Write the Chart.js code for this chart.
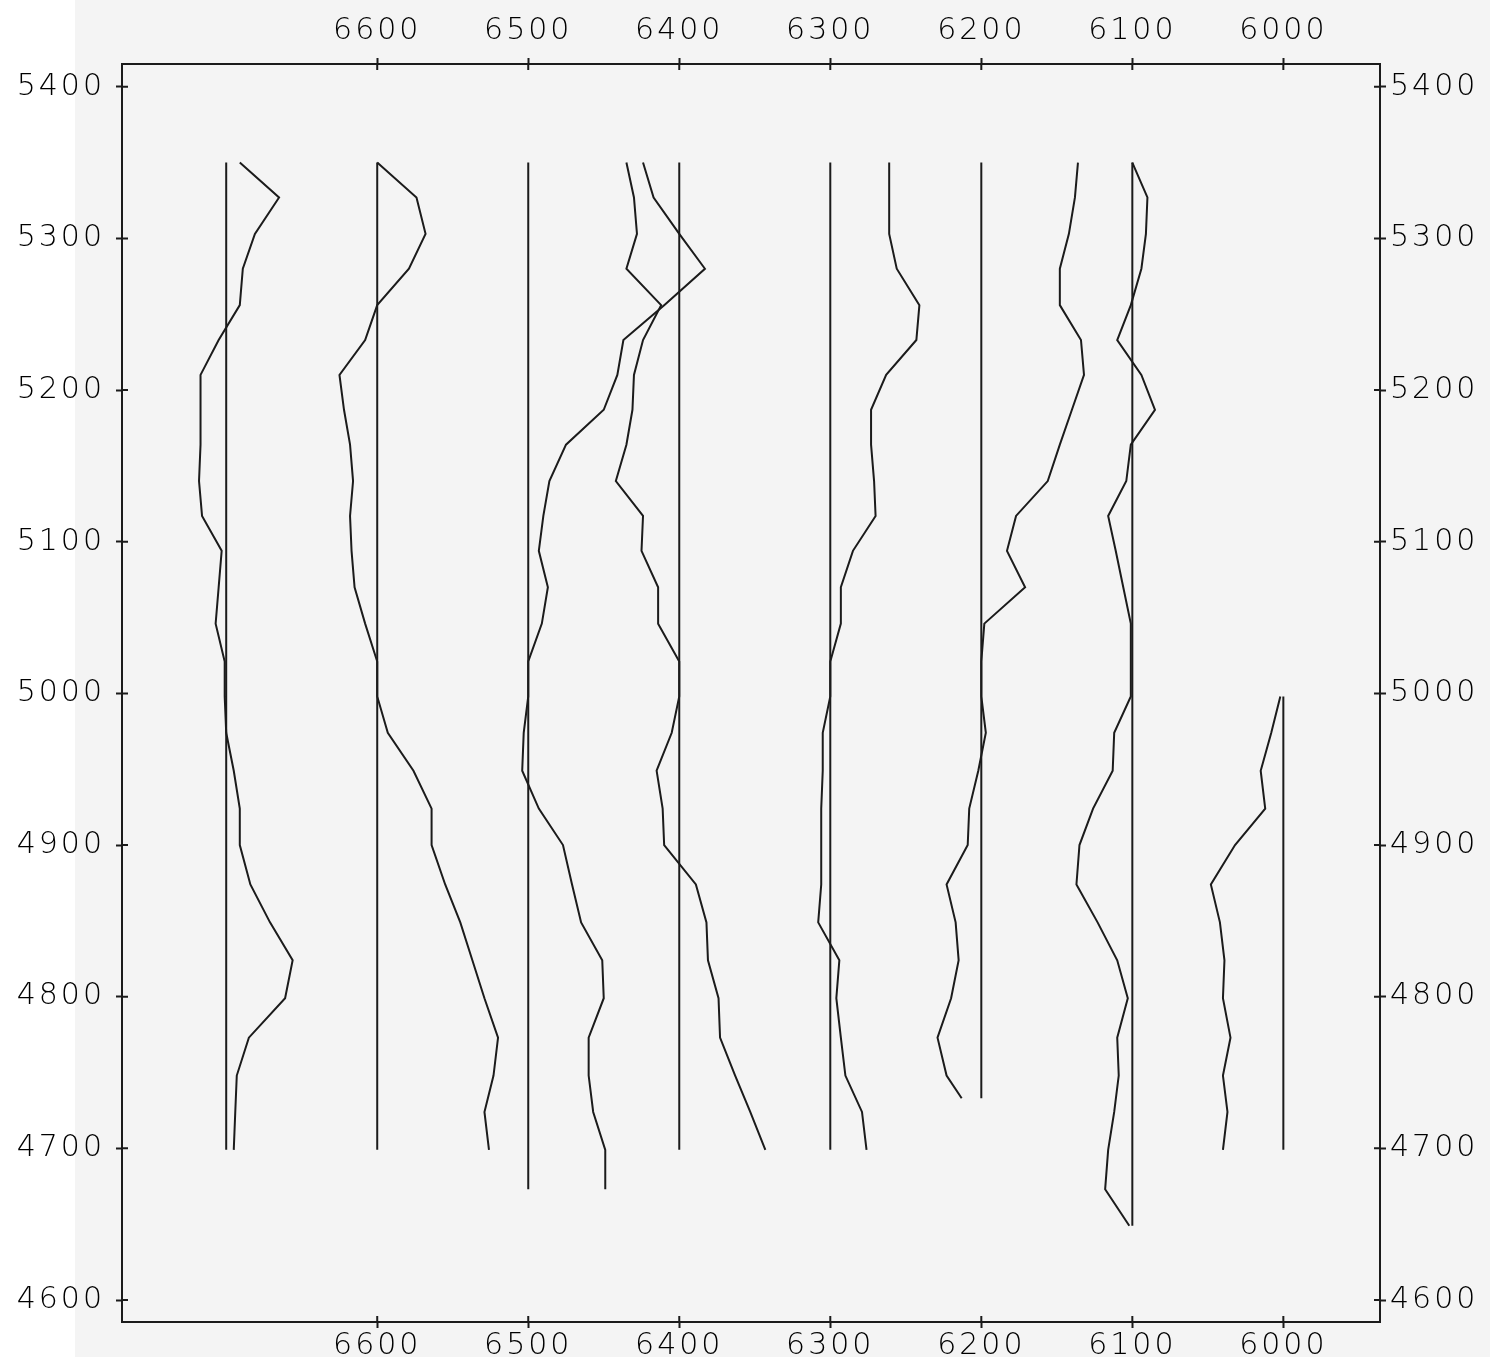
<!DOCTYPE html>
<html>
<head>
<meta charset="utf-8">
<script src="https://cdn.jsdelivr.net/npm/chart.js@4/dist/chart.umd.min.js"></script>
<style>
  html, body { margin: 0; padding: 0; }
  body { width: 1490px; height: 1357px; background: linear-gradient(to right, #ffffff 0, #ffffff 75px, #f4f4f4 75px); }
  #wrap { position: absolute; left: 0; top: 0; width: 1490px; height: 1357px; }
</style>
</head>
<body>
<div id="wrap"><canvas id="traces"></canvas></div>
<script>
// sample depths shared by all traces (top to bottom)
const depths = [5350, 5327, 5303, 5280, 5256, 5233, 5210, 5187, 5164, 5140, 5117, 5094, 5070, 5046, 5021,
                4998, 4974, 4949, 4924, 4900, 4874, 4849, 4824, 4799, 4773, 4748, 4724, 4699, 4673, 4649];

// straight reference lines for each trace
const baseX      = [6700, 6600, 6500, 6400, 6300, 6200, 6100, 6000];
const baseTop    = [5350, 5350, 5350, 5350, 5350, 5350, 5350, 4998];
const baseBottom = [4699, 4699, 4673, 4699, 4699, 4733, 4649, 4699];
const traceStart = [0, 0, 0, 0, 0, 0, 0, 15];

// wiggle traces, x value at each depth
const trace6700 = [6691, 6665, 6681, 6689, 6691, 6705, 6717, 6717, 6717, 6718, 6716, 6703, 6705, 6707, 6701,
                   6701, 6700, 6695, 6691, 6691, 6684, 6671, 6656, 6661, 6685, 6693, 6694, 6695];
const trace6600 = [6600, 6574, 6568, 6579, 6600, 6608, 6625, 6622, 6618, 6616, 6618, 6617, 6615, 6608, 6600,
                   6600, 6593, 6576, 6564, 6564, 6555, 6545, 6537, 6529, 6520, 6523, 6529, 6526];
const trace6500 = [6424, 6417, 6400, 6383, 6410, 6437, 6441, 6450, 6475, 6486, 6490, 6493, 6487, 6491, 6500,
                   6500, 6503, 6504, 6493, 6477, 6471, 6465, 6451, 6450, 6460, 6460, 6457, 6449, 6449];
const trace6400 = [6435, 6430, 6428, 6435, 6412, 6424, 6430, 6431, 6435, 6442, 6424, 6425, 6414, 6414, 6400,
                   6400, 6405, 6415, 6411, 6410, 6389, 6382, 6381, 6374, 6373, 6363, 6353, 6343];
const trace6300 = [6261, 6261, 6261, 6256, 6241, 6243, 6263, 6273, 6273, 6271, 6270, 6285, 6293, 6293, 6300,
                   6300, 6305, 6305, 6306, 6306, 6306, 6308, 6294, 6296, 6293, 6290, 6279, 6276];
const trace6200 = [6136, 6138, 6142, 6148, 6148, 6134, 6132, 6140, 6148, 6156, 6177, 6183, 6171, 6198, 6200,
                   6200, 6197, 6202, 6208, 6209, 6223, 6217, 6215, 6220, 6229, 6223, 6213];
const trace6100 = [6100, 6090, 6091, 6094, 6101, 6110, 6094, 6085, 6101, 6104, 6116, 6111, 6106, 6101, 6101,
                   6101, 6112, 6113, 6126, 6135, 6137, 6123, 6110, 6103, 6110, 6109, 6112, 6116, 6118, 6102];
const trace6000 = [6002, 6008, 6015, 6012, 6032, 6048, 6042, 6039, 6040, 6035, 6040, 6037, 6040];

const traces = [trace6700, trace6600, trace6500, trace6400, trace6300, trace6200, trace6100, trace6000];

const xTicks = [6000, 6100, 6200, 6300, 6400, 6500, 6600];
const yTicks = [4600, 4700, 4800, 4900, 5000, 5100, 5200, 5300, 5400];

const ink = '#1b1b1b';
const datasets = [];

baseX.forEach((bx, k) => {
    datasets.push({
        data: [{ x: bx, y: baseTop[k] }, { x: bx, y: baseBottom[k] }]
    });
    const vals = traces[k];
    const pts = vals.map((v, i) => ({
        x: v,
        y: i === vals.length - 1 ? baseBottom[k] : depths[traceStart[k] + i]
    }));
    datasets.push({ data: pts });
});

datasets.forEach(d => {
    d.showLine = true;
    d.borderColor = ink;
    d.borderWidth = 2;
    d.pointRadius = 0;
    d.tension = 0;
});

const labelFont = { family: 'DejaVu Sans', size: 30, weight: 200 };

function fixed(values) {
    return scale => { scale.ticks = values.map(v => ({ value: v })); };
}

function axisX(pos, pad, h) {
    return {
        type: 'linear', position: pos, reverse: true, min: 5936, max: 6769,
        afterBuildTicks: fixed(xTicks),
        afterFit: s => { s.height = h; },
        border: { display: true, color: ink, width: 2 },
        grid: { drawOnChartArea: false, drawTicks: true, tickLength: 6, tickColor: ink, tickWidth: 2 },
        ticks: { color: '#000', font: labelFont, padding: pad, maxRotation: 0, autoSkip: false,
                 callback: v => String(v) }
    };
}

function axisY(pos, pad, w) {
    return {
        type: 'linear', position: pos, min: 4585.5, max: 5415,
        afterBuildTicks: fixed(yTicks),
        afterFit: s => { s.width = w; },
        border: { display: true, color: ink, width: 2 },
        grid: { drawOnChartArea: false, drawTicks: true, tickLength: 6, tickColor: ink, tickWidth: 2 },
        ticks: { color: '#000', font: labelFont, padding: pad, autoSkip: false,
                 callback: v => String(v) }
    };
}

// plotter lettering is wide, so space the digits out a little
const wideText = {
    id: 'wideText',
    beforeDraw(chart) { chart.ctx.letterSpacing = '3px'; }
};

// ticks cross the frame, so draw the inner half too
const innerTicks = {
    id: 'innerTicks',
    afterDraw(chart) {
        const ctx = chart.ctx;
        const a = chart.chartArea;
        ctx.save();
        ctx.strokeStyle = ink;
        ctx.lineWidth = 2;
        ctx.beginPath();
        Object.values(chart.scales).forEach(s => {
            s.ticks.forEach(t => {
                const p = s.getPixelForValue(t.value);
                if (s.position === 'left') { ctx.moveTo(a.left, p); ctx.lineTo(a.left + 6, p); }
                if (s.position === 'right') { ctx.moveTo(a.right, p); ctx.lineTo(a.right - 6, p); }
                if (s.position === 'top') { ctx.moveTo(p, a.top); ctx.lineTo(p, a.top + 6); }
                if (s.position === 'bottom') { ctx.moveTo(p, a.bottom); ctx.lineTo(p, a.bottom - 6); }
            });
        });
        ctx.stroke();
        ctx.restore();
    }
};

new Chart(document.getElementById('traces'), {
    type: 'scatter',
    data: { datasets: datasets },
    options: {
        responsive: true,
        maintainAspectRatio: false,
        animation: false,
        layout: { padding: 0 },
        plugins: { legend: { display: false }, tooltip: { enabled: false } },
        scales: {
            x: axisX('bottom', 0, 35),
            x2: axisX('top', 9, 64),
            y: axisY('left', 11, 122),
            y2: axisY('right', 4, 110)
        }
    },
    plugins: [wideText, innerTicks]
});
</script>
</body>
</html>
